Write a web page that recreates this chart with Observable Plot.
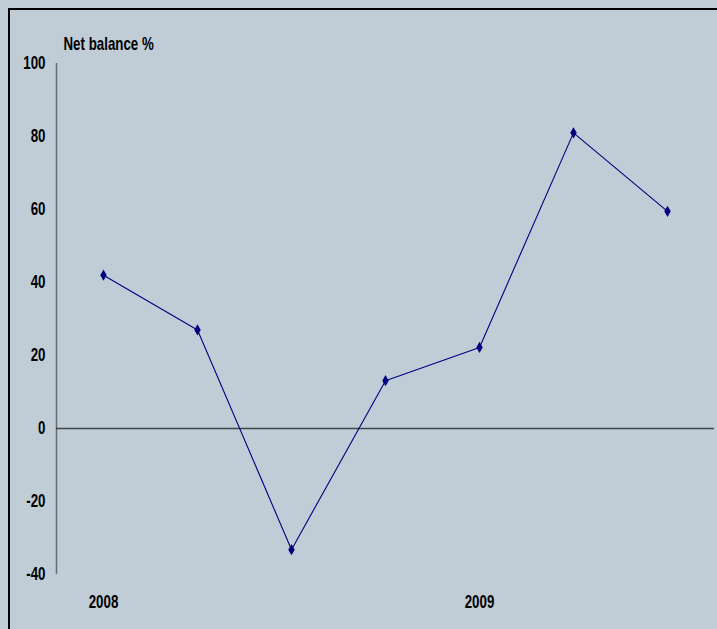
<!DOCTYPE html>
<html><head><meta charset="utf-8">
<script src="https://cdn.jsdelivr.net/npm/d3@7"></script>
<script src="https://cdn.jsdelivr.net/npm/@observablehq/plot@0.6"></script>
<style>
html,body{margin:0;padding:0;overflow:hidden;background:#c0ccd6}
#wrap{position:relative;width:717px;height:629px;background:#c0ccd6;overflow:hidden}
#border{position:absolute;left:8px;top:8px;width:800px;height:700px;border-left:2px solid #000;border-top:2px solid #000;}
#chart{position:absolute;left:0;top:0}
</style></head><body>
<div id="wrap"><div id="border"></div><div id="chart"></div></div>
<script>
const quarters = ["2008Q1","2008Q2","2008Q3","2008Q4","2009Q1","2009Q2","2009Q3"];
const netBalance = [42, 27, -33.2, 13.1, 22.2, 81, 59.5];
const yTicks = [-40, -20, 0, 20, 40, 60, 80, 100];
const yearLabels = {"2008Q1": "2008", "2009Q1": "2009"};
const yLabel = "Net balance %";

const data = quarters.map((q, i) => ({i, q, v: netBalance[i]}));
const labelIdx = quarters.map((q, i) => i).filter(i => yearLabels[quarters[i]]);
const font = '"Liberation Sans",Arial,sans-serif';

const plot = Plot.plot({
  width: 717, height: 629,
  marginLeft: 56, marginRight: 3, marginTop: 63, marginBottom: 55,
  style: {background: "transparent", fontFamily: font, fontWeight: "bold", fontSize: "18px", color: "#000", overflow: "visible"},
  x: {domain: [-0.5, quarters.length - 0.5]},
  y: {domain: [-40, 100]},
  marks: [
    Plot.axisY({ticks: yTicks, tickSize: 0, tickPadding: 11, label: null, tickFormat: d => String(d)}),
    Plot.axisX({ticks: labelIdx, tickSize: 0, tickPadding: 21, label: null, tickFormat: i => yearLabels[quarters[i]]}),
    Plot.ruleX([-0.5], {y1: -40, y2: 100, stroke: "#6a6a6a", strokeWidth: 1.5}),
    Plot.ruleY([0], {stroke: "#404448", strokeWidth: 1.5}),
    Plot.line(data, {x: "i", y: "v", stroke: "#000080", strokeWidth: 1.1}),
    Plot.dot(data, {x: "i", y: "v", symbol: "diamond", fill: "#000080", stroke: "none", r: 3.4}),
    Plot.text([yLabel], {frameAnchor: "top-left", dx: 7, dy: -19, textAnchor: "start", lineAnchor: "middle", fill: "#000"})
  ]
});
document.getElementById("chart").appendChild(plot);

// condense text horizontally around its anchor (reference uses a narrow face)
const SX = 0.74;
plot.querySelectorAll("text").forEach(t => {
  const b = t.getBBox();
  const anchor = getComputedStyle(t).textAnchor;
  const ax = anchor === "end" ? b.x + b.width : anchor === "middle" ? b.x + b.width / 2 : b.x;
  const prev = t.getAttribute("transform") || "";
  t.setAttribute("transform", `${prev} translate(${ax},0) scale(${SX},1) translate(${-ax},0)`.trim());
});
</script>
</body></html>
